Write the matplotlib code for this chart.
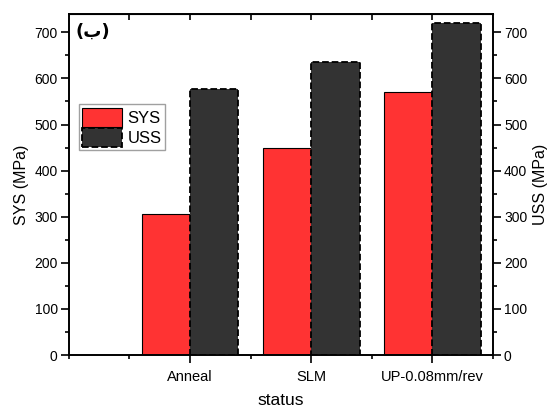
import numpy as np
import matplotlib.pyplot as plt
from matplotlib.ticker import MultipleLocator, FixedLocator

# valores
status = ["Anneal", "SLM", "UP-0.08mm/rev"]
sys_vals = [305, 450, 570]
uss_vals = [578, 636, 720]

plt.rcParams['font.family'] = ['Liberation Sans', 'DejaVu Sans']

x = np.arange(1, len(status) + 1)
w = 0.4

fig = plt.figure(figsize=(5.55, 4.09), dpi=100)
ax1 = fig.add_axes([0.124, 0.132, 0.764, 0.834])
ax2 = ax1.twinx()

b1 = ax1.bar(x - w / 2, sys_vals, width=w, color='#FF3333',
             edgecolor='black', linewidth=0.8, label='SYS')
b2 = ax2.bar(x + w / 2, uss_vals, width=w, color='#333333',
             edgecolor='black', linewidth=1.3, linestyle='--', label='USS')

for ax in (ax1, ax2):
    ax.set_ylim(0, 740)
    ax.yaxis.set_major_locator(MultipleLocator(100))
    ax.yaxis.set_minor_locator(MultipleLocator(50))
    for s in ax.spines.values():
        s.set_linewidth(1.2)

ax1.set_xlim(0, 3.5)
ax1.set_xticks(x)
ax1.set_xticklabels(status)
ax1.xaxis.set_minor_locator(FixedLocator([0, 0.5, 1.5, 2.5, 3.5]))

ax1.tick_params(axis='both', which='major', direction='out', length=6,
                width=1.2, labelsize=10, pad=2)
ax1.tick_params(axis='x', which='major', labelsize=10.5, pad=5)
ax1.tick_params(axis='both', which='minor', direction='out', length=3, width=1.2)
ax2.tick_params(axis='y', which='major', direction='out', length=6,
                width=1.2, labelsize=10, pad=2)
ax2.tick_params(axis='y', which='minor', direction='out', length=3, width=1.2)

top = ax1.secondary_xaxis('top')
top.set_xticks(np.arange(0.5, 3.5, 0.5))
top.tick_params(direction='in', length=4, width=1.2, labeltop=False)

ax1.set_ylabel("SYS (MPa)", fontsize=11.5, labelpad=4)
ax2.set_ylabel("USS (MPa)", fontsize=11.5, labelpad=4)
ax1.set_xlabel("status", fontsize=12.5, labelpad=6)

ax1.text(0.015, 0.975, "(ب)", transform=ax1.transAxes, ha='left', va='top',
         fontsize=13, fontweight='bold', family=['DejaVu Sans'])

leg = ax2.legend([b1, b2], ['SYS', 'USS'], loc='upper left',
                 bbox_to_anchor=(0.024, 0.735), fontsize=12, fancybox=False,
                 edgecolor='#888888', handlelength=2.4, handleheight=1.4,
                 handletextpad=0.3, borderpad=0.2, labelspacing=0.05,
                 borderaxespad=0)
leg.get_frame().set_linewidth(1.0)

fig.savefig("out.png", dpi=100)
